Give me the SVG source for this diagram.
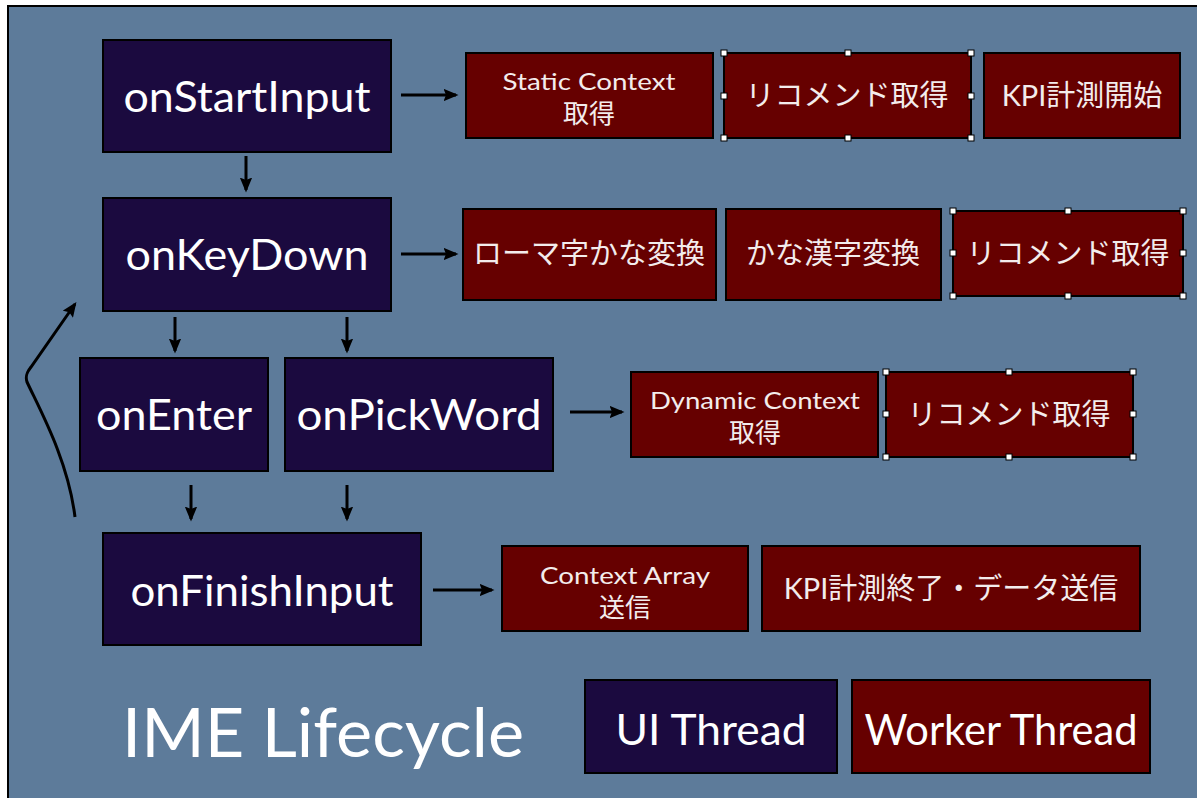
<svg xmlns="http://www.w3.org/2000/svg" width="1197" height="798" viewBox="0 0 1197 798">
<style>
.ui{fill:#1b0a3f;stroke:#000;stroke-width:2}
.wk{fill:#660000;stroke:#000;stroke-width:2}
.ut{font-family:Lato,"Open Sans",sans-serif;fill:#fff;text-anchor:middle}
.wt{font-family:Lato,"Noto Sans CJK JP",sans-serif;fill:#f3ecec;text-anchor:middle}
.cn{stroke:#000;stroke-width:3;fill:none}
.hd{fill:#fff;stroke:#000;stroke-width:1}
</style>
<defs>
<marker id="ah" viewBox="0 0 12 10" refX="10" refY="5" markerWidth="5" markerHeight="4.2" orient="auto" markerUnits="strokeWidth">
<path d="M0,0 L12,5 L0,10 L2,5 Z" fill="#000"/>
</marker>
</defs>
<rect x="0" y="0" width="1197" height="798" fill="#fff"/>
<rect x="8" y="6" width="1195" height="800" fill="#5d7b9a" stroke="#000" stroke-width="2"/>

<g id="connectors">
<line class="cn" x1="246" y1="156" x2="246" y2="190" marker-end="url(#ah)"/>
<line class="cn" x1="401" y1="95" x2="456" y2="95" marker-end="url(#ah)"/>
<line class="cn" x1="401" y1="254" x2="456" y2="254" marker-end="url(#ah)"/>
<line class="cn" x1="175" y1="317" x2="175" y2="351" marker-end="url(#ah)"/>
<line class="cn" x1="347" y1="317" x2="347" y2="351" marker-end="url(#ah)"/>
<line class="cn" x1="570" y1="412" x2="622" y2="412" marker-end="url(#ah)"/>
<line class="cn" x1="191" y1="485" x2="191" y2="519" marker-end="url(#ah)"/>
<line class="cn" x1="347" y1="485" x2="347" y2="519" marker-end="url(#ah)"/>
<line class="cn" x1="433" y1="590" x2="492" y2="590" marker-end="url(#ah)"/>
<path class="cn" d="M75,517 C68,460 40,410 27,382 C25,376 27,372 31,367 L75,304" marker-end="url(#ah)"/>
</g>

<g id="onStartInput"><rect class="ui" x="103" y="40" width="288" height="112"/><text class="ut" x="247" y="112" font-size="42" textLength="247" lengthAdjust="spacingAndGlyphs">onStartInput</text></g>
<g id="onKeyDown"><rect class="ui" x="103" y="198" width="288" height="113"/><text class="ut" x="247" y="270" font-size="42" textLength="243" lengthAdjust="spacingAndGlyphs">onKeyDown</text></g>
<g id="onEnter"><rect class="ui" x="80" y="358" width="188" height="113"/><text class="ut" x="174" y="430" font-size="42" textLength="156" lengthAdjust="spacingAndGlyphs">onEnter</text></g>
<g id="onPickWord"><rect class="ui" x="285" y="358" width="268" height="113"/><text class="ut" x="419" y="430" font-size="42" textLength="245" lengthAdjust="spacingAndGlyphs">onPickWord</text></g>
<g id="onFinishInput"><rect class="ui" x="103" y="533" width="318" height="112"/><text class="ut" x="262" y="606" font-size="42" textLength="263" lengthAdjust="spacingAndGlyphs">onFinishInput</text></g>

<g id="staticContext"><rect class="wk" x="466" y="53" width="247" height="85"/><text class="wt" x="589" y="90" font-size="23" textLength="173" lengthAdjust="spacingAndGlyphs">Static Context</text><text class="wt" x="589" y="123" font-size="26">取得</text></g>
<g id="recommend1"><rect class="wk" x="724" y="53" width="247" height="85"/><text class="wt" x="847" y="106" font-size="29">リコメンド取得</text>
<rect class="hd" x="721" y="50" width="6" height="6"/><rect class="hd" x="845" y="50" width="6" height="6"/><rect class="hd" x="968" y="50" width="6" height="6"/><rect class="hd" x="721" y="93" width="6" height="6"/><rect class="hd" x="968" y="93" width="6" height="6"/><rect class="hd" x="721" y="135" width="6" height="6"/><rect class="hd" x="845" y="135" width="6" height="6"/><rect class="hd" x="968" y="135" width="6" height="6"/></g>
<g id="kpiStart"><rect class="wk" x="984" y="53" width="196" height="85"/><text class="wt" x="1082" y="106" font-size="29">KPI計測開始</text></g>

<g id="romaKana"><rect class="wk" x="463" y="209" width="253" height="91"/><text class="wt" x="589" y="264" font-size="29">ローマ字かな変換</text></g>
<g id="kanaKanji"><rect class="wk" x="726" y="209" width="215" height="91"/><text class="wt" x="833" y="264" font-size="29">かな漢字変換</text></g>
<g id="recommend2"><rect class="wk" x="953" y="211" width="230" height="85"/><text class="wt" x="1068" y="264" font-size="29">リコメンド取得</text>
<rect class="hd" x="950" y="208" width="6" height="6"/><rect class="hd" x="1065" y="208" width="6" height="6"/><rect class="hd" x="1180" y="208" width="6" height="6"/><rect class="hd" x="950" y="250" width="6" height="6"/><rect class="hd" x="1180" y="250" width="6" height="6"/><rect class="hd" x="950" y="293" width="6" height="6"/><rect class="hd" x="1065" y="293" width="6" height="6"/><rect class="hd" x="1180" y="293" width="6" height="6"/></g>

<g id="dynamicContext"><rect class="wk" x="631" y="372" width="247" height="85"/><text class="wt" x="755" y="409" font-size="23" textLength="210" lengthAdjust="spacingAndGlyphs">Dynamic Context</text><text class="wt" x="755" y="442" font-size="26">取得</text></g>
<g id="recommend3"><rect class="wk" x="886" y="372" width="247" height="85"/><text class="wt" x="1009" y="425" font-size="29">リコメンド取得</text>
<rect class="hd" x="883" y="369" width="6" height="6"/><rect class="hd" x="1006" y="369" width="6" height="6"/><rect class="hd" x="1130" y="369" width="6" height="6"/><rect class="hd" x="883" y="411" width="6" height="6"/><rect class="hd" x="1130" y="411" width="6" height="6"/><rect class="hd" x="883" y="454" width="6" height="6"/><rect class="hd" x="1006" y="454" width="6" height="6"/><rect class="hd" x="1130" y="454" width="6" height="6"/></g>

<g id="contextArray"><rect class="wk" x="502" y="546" width="246" height="85"/><text class="wt" x="625" y="584" font-size="23" textLength="170" lengthAdjust="spacingAndGlyphs">Context Array</text><text class="wt" x="625" y="617" font-size="26">送信</text></g>
<g id="kpiEnd"><rect class="wk" x="762" y="546" width="378" height="85"/><text class="wt" x="951" y="599" font-size="29">KPI計測終了・データ送信</text></g>

<g id="title"><text x="122" y="757" font-family="Lato,'Open Sans',sans-serif" font-size="68" fill="#fff" textLength="402" lengthAdjust="spacingAndGlyphs">IME Lifecycle</text></g>
<g id="legendUI"><rect class="ui" x="585" y="680" width="252" height="93"/><text class="ut" x="711" y="745" font-size="42" textLength="191" lengthAdjust="spacingAndGlyphs">UI Thread</text></g>
<g id="legendWorker"><rect class="wk" x="852" y="680" width="298" height="93"/><text class="ut" x="1001" y="745" font-size="42" textLength="273" lengthAdjust="spacingAndGlyphs">Worker Thread</text></g>
</svg>
